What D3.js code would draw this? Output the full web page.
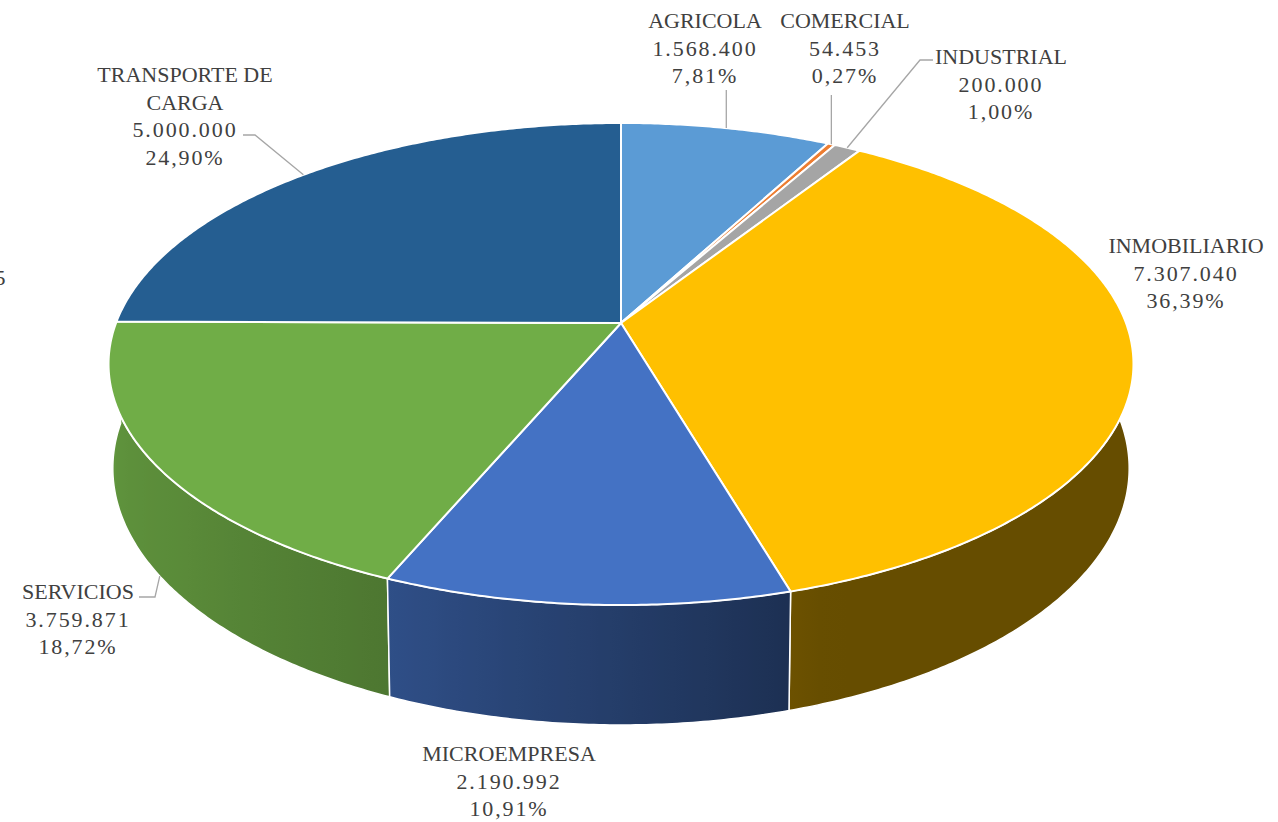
<!DOCTYPE html>
<html>
<head>
<meta charset="utf-8">
<script src="https://cdn.jsdelivr.net/npm/d3@7/dist/d3.min.js"></script>
<style>
  html, body { margin: 0; padding: 0; background: #ffffff; }
  svg { display: block; }
  text { font-family: "Liberation Serif", "DejaVu Serif", serif; fill: #404040; }
</style>
</head>
<body>
<svg id="chart" width="1278" height="822"></svg>
<script>
// ---- data ----
const categories = ["AGRICOLA", "COMERCIAL", "INDUSTRIAL", "INMOBILIARIO", "MICROEMPRESA", "SERVICIOS", "TRANSPORTE DE CARGA"];
const values = [1568400, 54453, 200000, 7307040, 2190992, 3759871, 5000000];
const sliceColors = ["#5B9BD5", "#ED7D31", "#A5A5A5", "#FFC000", "#4472C4", "#70AD47", "#255E91"];
const labelLines = [["AGRICOLA"], ["COMERCIAL"], ["INDUSTRIAL"], ["INMOBILIARIO"], ["MICROEMPRESA"], ["SERVICIOS"], ["TRANSPORTE DE", "CARGA"]];
const strayLabel = "5";

// ---- layout ----
const svg = d3.select("#chart");
const cam = { cx: 621, cy: 323, f: 2630, d0: 5.208, s: 0.4635, c: 0.886, depth: 0.2298, hPersp: 0.4 };

const locale = d3.formatLocale({ decimal: ",", thousands: ".", grouping: [3], currency: ["", ""] });
const fmtVal = locale.format(",d");
const fmtPct = locale.format(".2%");

const total = d3.sum(values);
const pie = d3.pie().sort(null).value(d => d).startAngle(0).endAngle(2 * Math.PI);
const arcs = pie(values);

// perspective projection of a point on the pie rim (theta clockwise from back), at height h
function proj(theta, h, r = 1) {
  const u = r * Math.sin(theta), v = -r * Math.cos(theta);
  const z = cam.d0 - v * cam.c - h * cam.s * cam.hPersp;
  return [cam.cx + cam.f * u / z, cam.cy + cam.f * (v * cam.s - h * cam.c) / z];
}
function samples(a0, a1) {
  const n = Math.max(2, Math.ceil((a1 - a0) / (Math.PI / 360)));
  return d3.range(n + 1).map(i => a0 + (a1 - a0) * i / n);
}

// wall lighting (fraction of base colour kept) by angle in degrees
const light = d3.scaleLinear()
  .domain([0, 160, 165, 203, 230, 260, 300, 360])
  .range([0.40, 0.40, 0.43, 0.69, 0.80, 0.87, 0.87, 0.40])
  .clamp(true);
function shade(col, k) {
  const c = d3.rgb(col);
  return d3.rgb(c.r * k, c.g * k, c.b * k).formatHex();
}

const defs = svg.append("defs");
const line = d3.line();

// ---- walls (back to front) ----
const walls = arcs.map((a, i) => {
  const ang = samples(a.startAngle, a.endAngle);
  const top = ang.map(t => proj(t, 0));
  const bot = ang.map(t => proj(t, -cam.depth)).reverse();
  const meanV = d3.mean(ang, t => -Math.cos(t));
  const xs = top.map(p => p[0]);
  const xmin = d3.min(xs), xmax = d3.max(xs);
  const gid = "wall" + i;
  const g = defs.append("linearGradient").attr("id", gid)
    .attr("gradientUnits", "userSpaceOnUse")
    .attr("x1", xmin).attr("x2", xmax).attr("y1", 0).attr("y2", 0);
  const stops = ang.map((t, j) => ({ off: xmax > xmin ? (xs[j] - xmin) / (xmax - xmin) : 0, col: shade(sliceColors[i], light(t * 180 / Math.PI)) }))
    .sort((p, q) => p.off - q.off);
  const step = Math.max(1, Math.floor(stops.length / 40));
  stops.filter((d, j) => j % step === 0 || j === stops.length - 1).forEach(s => {
    g.append("stop").attr("offset", s.off).attr("stop-color", s.col);
  });
  return { i, meanV, d: line(top.concat(bot)) + "Z" };
}).sort((p, q) => p.meanV - q.meanV);

svg.append("g").selectAll("path").data(walls).join("path")
  .attr("d", d => d.d)
  .attr("fill", d => `url(#wall${d.i})`)
  .attr("stroke", "#ffffff")
  .attr("stroke-width", 1.5)
  .attr("stroke-linejoin", "round");

// ---- top faces ----
svg.append("g").selectAll("path").data(arcs).join("path")
  .attr("d", a => {
    const pts = [[cam.cx, cam.cy]].concat(samples(a.startAngle, a.endAngle).map(t => proj(t, 0)));
    return line(pts) + "Z";
  })
  .attr("fill", (a, i) => sliceColors[i])
  .attr("stroke", "#ffffff")
  .attr("stroke-width", 2)
  .attr("stroke-linejoin", "round");

// ---- labels ----
const mid = a => (a.startAngle + a.endAngle) / 2;
const labelLayout = [
  { x: 705, y: 28, from: a => proj(mid(a), 0), via: p => [[p[0], 90]] },
  { x: 845, y: 28, from: a => proj(mid(a), 0), via: p => [[p[0], 95]] },
  { x: 1001, y: 64, from: a => proj(mid(a), 0), via: p => [[920, 60], [933, 60]] },
  { x: 1186, y: 253 },
  { x: 509, y: 761 },
  { x: 78, y: 599, from: a => proj(mid(a), -cam.depth), via: p => [[155, 597], [139, 597]] },
  { x: 185, y: 82, from: a => proj(mid(a), 0), via: p => [[255, 135], [243, 135]] }
];
const lh = 27.6;

const leaders = svg.append("g");
arcs.forEach((a, i) => {
  const L = labelLayout[i];
  if (L.from) {
    const p0 = L.from(a);
    leaders.append("path")
      .attr("d", line([p0].concat(L.via(p0))))
      .attr("fill", "none").attr("stroke", "#A6A6A6").attr("stroke-width", 1.3);
  }
});

const labels = svg.append("g").attr("font-size", 22).attr("text-anchor", "middle");
arcs.forEach((a, i) => {
  const L = labelLayout[i];
  const lines = labelLines[i].map(t => ({ t, num: false }))
    .concat([{ t: fmtVal(values[i]), num: true }, { t: fmtPct(values[i] / total), num: true }]);
  const t = labels.append("text").attr("x", L.x).attr("y", L.y);
  lines.forEach((ln, j) => {
    t.append("tspan").attr("x", L.x).attr("y", L.y + j * lh)
      .attr("letter-spacing", ln.num ? 1.9 : 0)
      .text(ln.t);
  });
});

svg.append("text").attr("x", 5.5).attr("y", 285).attr("font-size", 22)
  .attr("text-anchor", "end").text(strayLabel);
</script>
</body>
</html>
